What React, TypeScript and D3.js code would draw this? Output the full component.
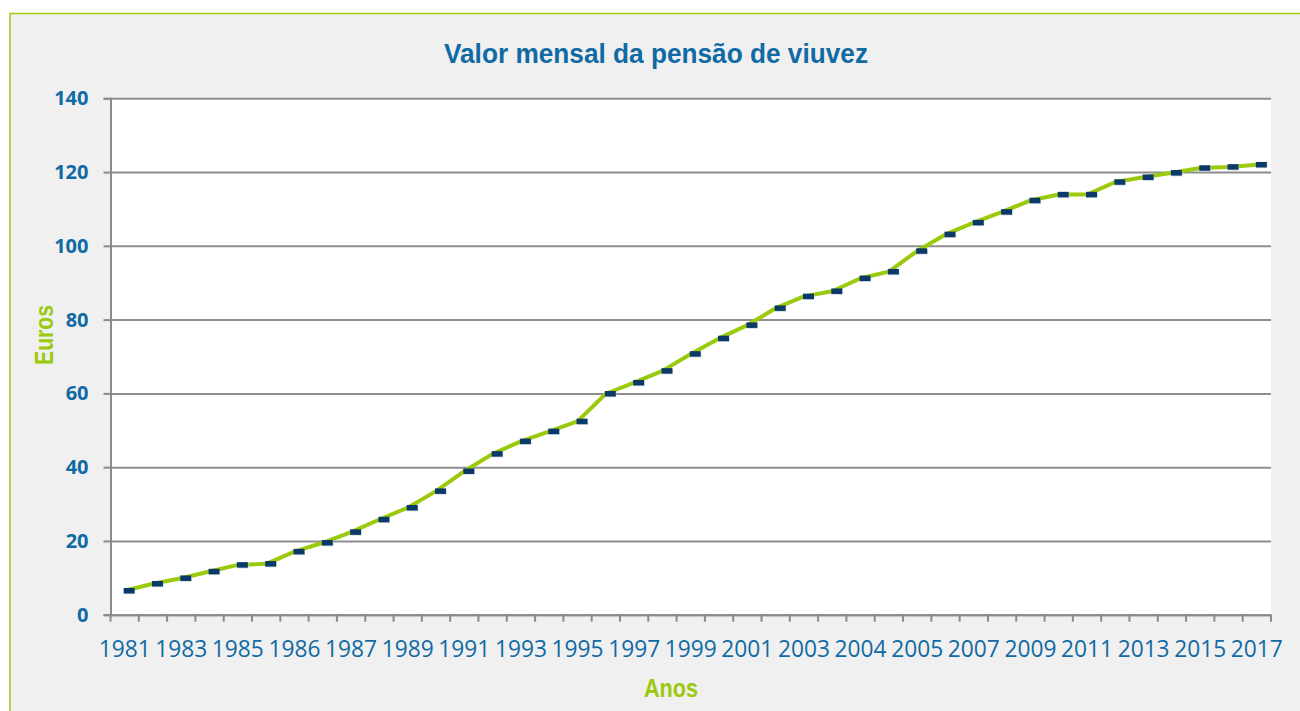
import React, { useEffect, useRef } from "react";
import * as d3 from "d3";

const width = 1300;
const height = 711;
const plot = { left: 110.5, right: 1271, top: 98.3, bottom: 614.7 };

// one entry per update; some years had two updates
const years = [
  "1981", "1982", "1983", "1984", "1985", "1985", "1986", "1986", "1987", "1988",
  "1989", "1990", "1991", "1992", "1993", "1994", "1995", "1996", "1997", "1998",
  "1999", "2000", "2001", "2002", "2003", "2003", "2004", "2004", "2005", "2006",
  "2007", "2008", "2009", "2010", "2011", "2012", "2013", "2014", "2015", "2016",
  "2017"
];
const pension = [
  6.5, 8.4, 9.9, 11.7, 13.5, 13.8, 17.1, 19.5, 22.4, 25.8,
  29.0, 33.5, 38.9, 43.6, 47.0, 49.7, 52.4, 59.9, 62.9, 66.1,
  70.7, 74.9, 78.5, 83.1, 86.3, 87.7, 91.2, 93.0, 98.6, 103.1,
  106.3, 109.2, 112.3, 113.9, 113.9, 117.3, 118.6, 119.8, 121.1, 121.4,
  122.0
];
const yTicks = [0, 20, 40, 60, 80, 100, 120, 140];

const title = "Valor mensal da pensão de viuvez";
const yLabel = "Euros";
const xLabel = "Anos";

const blue = "#106aa3";
const green = "#9bc90c";
const narrow = "'Liberation Sans Narrow', 'Arial Narrow', 'Liberation Sans', sans-serif";

const idx = d3.range(years.length);
const xScale = d3.scaleBand<number>().domain(idx).range([plot.left, plot.right]);
const yScale = d3.scaleLinear().domain([0, 140]).range([plot.bottom, plot.top]);
const cx = (i: number) => (xScale(i) as number) + xScale.bandwidth() / 2;

const lineGen = d3
  .line<number>()
  .x((d, i) => cx(i))
  .y(d => yScale(d))
  .curve(d3.curveLinear);

export default function App() {
  const yGrid = useRef<SVGGElement>(null);
  const yAxis = useRef<SVGGElement>(null);
  const xAxis = useRef<SVGGElement>(null);

  useEffect(() => {
    d3.select(yGrid.current!)
      .call(
        d3.axisLeft(yScale)
          .tickValues(yTicks)
          .tickSize(-(plot.right - plot.left))
          .tickFormat(() => "")
      )
      .call(g => g.select(".domain").remove())
      .call(g => g.selectAll("line").attr("stroke", "#8e8e8e").attr("stroke-width", 2));

    d3.select(yAxis.current!)
      .call(d3.axisLeft(yScale).tickValues(yTicks).tickSize(7).tickPadding(15))
      .call(g => g.select(".domain").attr("stroke", "#8a8a8a").attr("stroke-width", 2))
      .call(g => g.selectAll("line").attr("stroke", "#8a8a8a").attr("stroke-width", 2))
      .call(g =>
        g.selectAll("text")
          .attr("fill", blue)
          .attr("font-family", "'Open Sans', sans-serif")
          .attr("font-weight", "bold")
          .attr("font-size", 20)
      );

    d3.select(xAxis.current!)
      .call(
        d3.axisBottom(xScale)
          .tickValues(idx.filter(i => i % 2 === 0))
          .tickFormat(i => years[i as number])
          .tickSize(0)
          .tickPadding(26)
      )
      .call(g => g.select(".domain").attr("stroke", "#8a8a8a").attr("stroke-width", 2))
      .call(g =>
        g.selectAll("text")
          .attr("fill", blue)
          .attr("font-family", "'Open Sans', sans-serif")
          .attr("font-size", 23)
          .attr("textLength", 52)
          .attr("lengthAdjust", "spacingAndGlyphs")
      );
  }, []);

  const boundaries = idx.map(i => xScale(i) as number).concat([plot.right]);

  return (
    <svg
      width={width}
      height={height}
      style={{ position: "absolute", left: 0, top: 0, background: "#ffffff" }}
    >
      <rect x={10} y={13.5} width={width - 10} height={height - 13.5} fill="#f0f0f0" />
      <path d={`M10,${height} V13.5 H${width}`} fill="none" stroke={green} strokeWidth={1.5} />

      <rect
        x={plot.left}
        y={plot.top}
        width={plot.right - plot.left}
        height={plot.bottom - plot.top}
        fill="#ffffff"
      />
      <g ref={yGrid} transform={`translate(${plot.left},0)`} />
      <g ref={yAxis} transform={`translate(${plot.left},0)`} />
      <g ref={xAxis} transform={`translate(0,${plot.bottom})`} />
      {boundaries.map((bx, i) => (
        <line key={i} x1={bx} x2={bx} y1={plot.bottom} y2={plot.bottom + 7} stroke="#8a8a8a" strokeWidth={2} />
      ))}

      <path d={lineGen(pension) || ""} fill="none" stroke={green} strokeWidth={4} strokeLinejoin="round" />
      {pension.map((v, i) => (
        <g key={i}>
          <rect x={cx(i) - 0.5} y={yScale(v) - 2} width={11} height={5.5} fill="#c9d3df" />
          <rect x={cx(i) - 1} y={yScale(v) - 2.75} width={11} height={5.5} fill="#0b3a68" />
        </g>
      ))}

      <text
        x={656}
        y={63}
        textAnchor="middle"
        fill={blue}
        fontFamily={narrow}
        fontWeight="bold"
        fontSize={27}
        textLength={424}
        lengthAdjust="spacingAndGlyphs"
      >
        {title}
      </text>
      <text
        transform="translate(53,335) rotate(-90)"
        textAnchor="middle"
        fill={green}
        fontFamily={narrow}
        fontWeight="bold"
        fontSize={26}
        textLength={60}
        lengthAdjust="spacingAndGlyphs"
      >
        {yLabel}
      </text>
      <text
        x={671}
        y={697}
        textAnchor="middle"
        fill={green}
        fontFamily={narrow}
        fontWeight="bold"
        fontSize={26}
        textLength={54}
        lengthAdjust="spacingAndGlyphs"
      >
        {xLabel}
      </text>
    </svg>
  );
}
